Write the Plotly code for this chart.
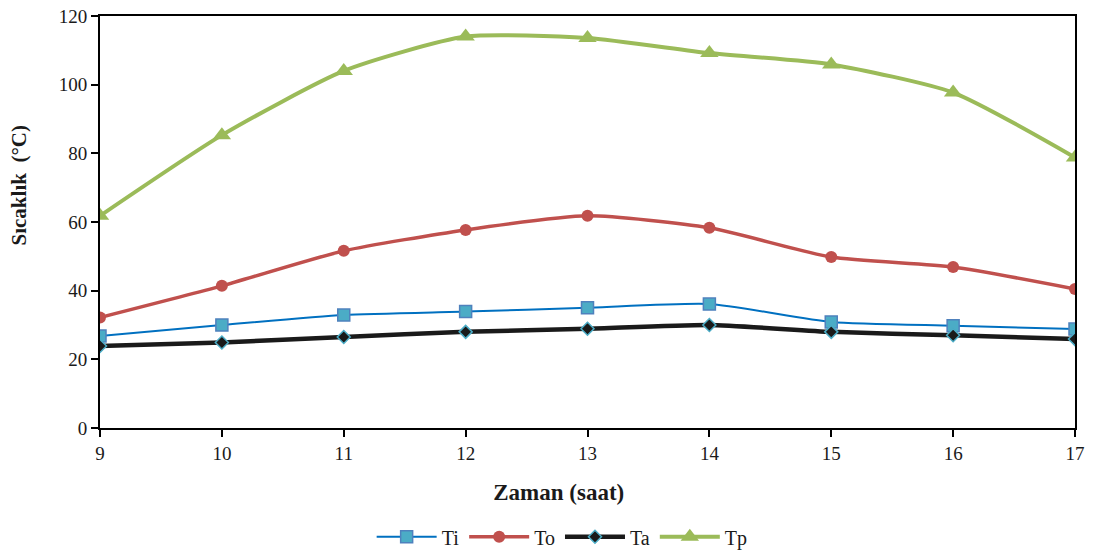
import plotly.graph_objects as go

hours = [9, 10, 11, 12, 13, 14, 15, 16, 17]
Ti = [26.8, 30.0, 32.9, 33.9, 35.0, 36.1, 30.9, 29.8, 28.8]
To = [32.2, 41.4, 51.6, 57.7, 61.8, 58.3, 49.8, 46.9, 40.5]
Ta = [23.9, 24.9, 26.5, 28.0, 28.9, 30.0, 28.0, 27.0, 25.9]
Tp = [61.8, 85.3, 104.0, 114.0, 113.6, 109.2, 105.9, 97.7, 78.8]

font = "Liberation Serif"
NB = "\u00a0"

fig = go.Figure()
fig.add_trace(go.Scatter(x=hours, y=Ti, name="Ti", mode="lines+markers",
                         line=dict(color="#0070c0", width=2, shape="spline", smoothing=0.6),
                         marker=dict(symbol="square", size=12, color="#4bacc6",
                                     line=dict(color="#4f81bd", width=1.5))))
fig.add_trace(go.Scatter(x=hours, y=To, name="To", mode="lines+markers",
                         line=dict(color="#c0504d", width=3.5, shape="spline", smoothing=0.6),
                         marker=dict(symbol="circle", size=12, color="#c0504d")))
fig.add_trace(go.Scatter(x=hours, y=Ta, name="Ta", mode="lines+markers",
                         line=dict(color="#1a1a1a", width=4.5, shape="spline", smoothing=0.6),
                         marker=dict(symbol="diamond", size=10, color="#1a1a1a",
                                     line=dict(color="#4bacc6", width=1.5))))
fig.add_trace(go.Scatter(x=hours, y=Tp, name="Tp", mode="lines+markers",
                         line=dict(color="#9bbb59", width=4, shape="spline", smoothing=0.6),
                         marker=dict(symbol="triangle-up", size=16, color="#9bbb59")))

fig.update_layout(
    width=1094, height=550,
    margin=dict(l=100, r=19, t=16, b=122),
    paper_bgcolor="white", plot_bgcolor="white",
    font=dict(family=font, size=19, color="#1a1a1a"),
    showlegend=True,
    legend=dict(orientation="h", x=0.474, xanchor="center",
                yref="container", y=0.024, yanchor="middle",
                font=dict(family=font, size=20), itemwidth=60, traceorder="normal"),
)
fig.update_xaxes(range=[9, 17], tickmode="array", tickvals=hours, automargin=False,
                 tickfont=dict(family=font, size=19),
                 ticks="outside", ticklen=7, tickwidth=1.5, tickcolor="black",
                 showline=True, linecolor="black", linewidth=2, mirror=True,
                 showgrid=False, zeroline=False,
                 title=dict(text="<b>Zaman (saat)" + NB * 10 + "</b>",
                            font=dict(family=font, size=23), standoff=21))
fig.update_yaxes(range=[0, 120], tickmode="array", tickvals=[0, 20, 40, 60, 80, 100, 120],
                 automargin=False, tickfont=dict(family=font, size=19),
                 ticks="outside", ticklen=7, tickwidth=1.5, tickcolor="black",
                 showline=True, linecolor="black", linewidth=2, mirror=True,
                 showgrid=False, zeroline=False,
                 title=dict(text="<b>" + NB * 14 + "Sıcaklık" + NB * 2 + "(°C)</b>",
                            font=dict(family=font, size=21), standoff=26))

fig.write_html("out.html", config={"displayModeBar": False},
               post_script="document.body.style.margin='0';")
